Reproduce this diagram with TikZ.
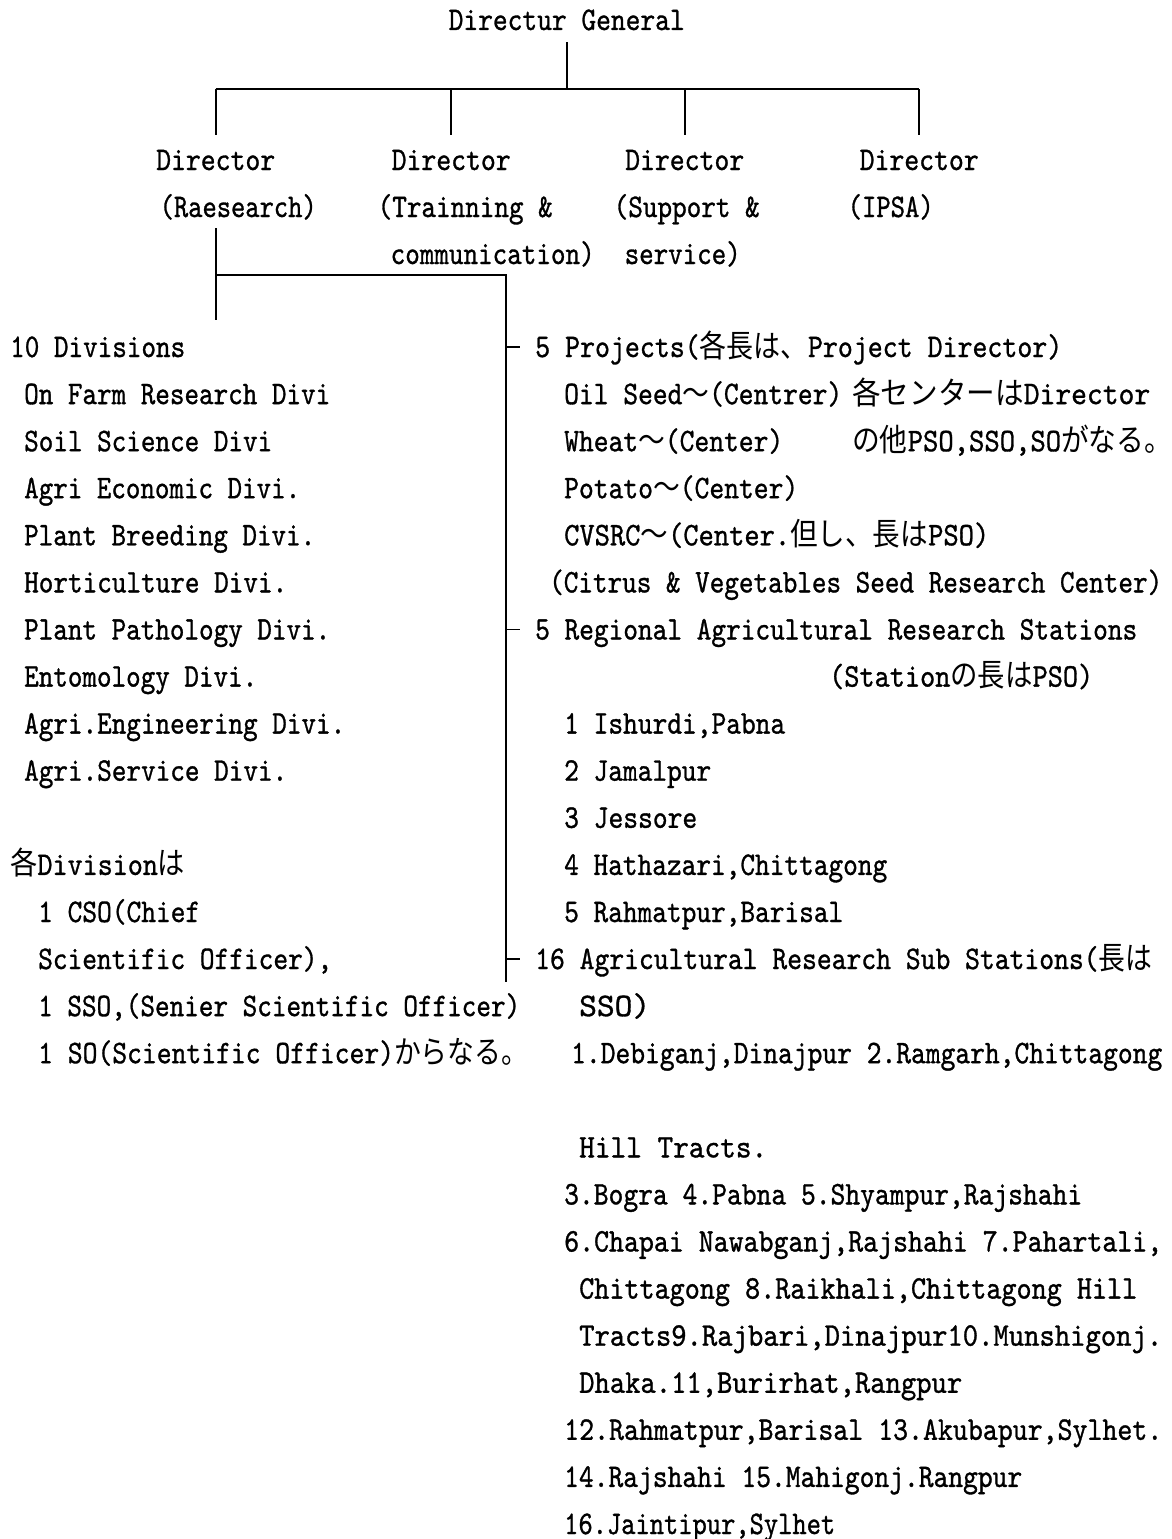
\documentclass[tikz,border=0pt]{standalone}
\usepackage{fontspec}
\usepackage{graphicx}
\newfontfamily\lmt{lmmono10-regular.otf}[FakeBold=1.0]
\newfontfamily\jf{Noto Sans CJK JP}[Scale=0.95]
\newcommand\J[1]{{\jf #1}}
\newcommand\fitw[2]{\resizebox{#1pt}{\height}{#2}}
\tikzset{
  lbl/.style={anchor=west, inner sep=0pt, text height=20pt, text depth=0pt,
              font=\lmt\fontsize{33}{40}\selectfont},
  conn/.style={line width=1.6pt, black}
}
% name, box start x, box end x, y, text
\newcommand\T[5]{\pgfmathsetmacro\tw{#3-#2}\node[lbl] (#1) at (#2,#4) {\fitw{\tw}{#5}};}
\begin{document}
\begin{tikzpicture}[x=1pt,y=-1pt]
\useasboundingbox[fill=white] (0,0) rectangle (1171,1539);
% top
\T{dg}{448.5}{684.5}{20}{Directur General}
\T{d1}{156}{275}{160}{Director}
\T{d2}{391.5}{510.5}{160}{Director}
\T{d3}{625}{744}{160}{Director}
\T{d4}{859.5}{978.5}{160}{Director}
\T{e1}{159.5}{316.5}{207}{(Raesearch)}
\T{e2}{377.5}{552.5}{207}{(Trainning \&}
\T{e3}{613.5}{759.5}{207}{(Support \&}
\T{e4}{847.5}{933.5}{207}{(IPSA)}
\T{f2}{390.5}{594.5}{254}{communication)}
\T{f3}{624.5}{740.5}{254}{service)}
% left column
\T{l0}{10}{185}{347}{10 Divisions}
\T{l1}{24}{330}{394.1}{On Farm Research Divi}
\T{l2}{24}{272}{441.2}{Soil Science Divi}
\T{l3}{24}{300}{488.2}{Agri Economic Divi.}
\T{l4}{24}{315}{535.3}{Plant Breeding Divi.}
\T{l5}{24}{287}{582.4}{Horticulture Divi.}
\T{l6}{24}{330}{629.5}{Plant Pathology Divi.}
\T{l7}{24}{257}{676.6}{Entomology Divi.}
\T{l8}{24}{345}{723.6}{Agri.Engineering Divi.}
\T{l9}{24}{287}{770.7}{Agri.Service Divi.}
\T{m0}{10}{185}{864.9}{\J{各}Division\J{は}}
\T{m1}{38}{200}{912.0}{1 CSO(Chief}
\T{m2}{38}{332}{959.0}{Scientific Officer),}
\T{m3}{38}{520}{1006.1}{1 SSO,(Senier Scientific Officer)}
\T{m4}{38}{528}{1053.2}{1 SO(Scientific Officer)\J{からなる。}}
% right column
\T{p5}{535}{1062}{347}{5 Projects(\J{各長は、}Project Director)}
\T{o1}{564}{842}{394.1}{Oil Seed\J{～}(Centrer)}
\T{o2}{852}{1150}{394.1}{\J{各センターは}Director}
\T{w1}{564}{783}{441.2}{Wheat\J{～}(Center)}
\T{w2}{852}{1172}{441.2}{\J{の他}PSO,SSO,SO\J{がなる。}}
\T{pt}{564}{798}{488.2}{Potato\J{～}(Center)}
\T{cv}{564}{989}{535.3}{CVSRC\J{～}(Center.\J{但し、長は}PSO)}
\T{ci}{549}{1162}{582.4}{(Citrus \& Vegetables Seed Research Center)}
\T{r5}{535}{1137}{629.5}{5 Regional Agricultural Research Stations}
\T{sp}{829}{1093}{676.6}{(Station\J{の長は}PSO)}
\T{a1}{564}{785}{723.6}{1 Ishurdi,Pabna}
\T{a2}{564}{711}{770.7}{2 Jamalpur}
\T{a3}{564}{697}{817.8}{3 Jessore}
\T{a4}{564}{887}{864.9}{4 Hathazari,Chittagong}
\T{a5}{564}{843}{912.0}{5 Rahmatpur,Barisal}
\T{s16}{535}{1152}{959.0}{16 Agricultural Research Sub Stations(\J{長は}}
\T{ss}{579}{650}{1006.1}{SSO)}
\T{b1}{571}{1162}{1053.2}{1.Debiganj,Dinajpur 2.Ramgarh,Chittagong}
\T{b2}{579}{767}{1147.4}{Hill Tracts.}
\T{b3}{564}{1082}{1194.4}{3.Bogra 4.Pabna 5.Shyampur,Rajshahi}
\T{b4}{564}{1162}{1241.5}{6.Chapai Nawabganj,Rajshahi 7.Pahartali,}
\T{b5}{579}{1137}{1288.6}{Chittagong 8.Raikhali,Chittagong Hill}
\T{b6}{579}{1162}{1335.7}{Tracts9.Rajbari,Dinajpur10.Munshigonj.}
\T{b7}{579}{962}{1382.8}{Dhaka.11,Burirhat,Rangpur}
\T{b8}{564}{1162}{1429.8}{12.Rahmatpur,Barisal 13.Akubapur,Sylhet.}
\T{b9}{564}{1022}{1476.9}{14.Rajshahi 15.Mahigonj.Rangpur}
\T{b10}{564}{835}{1524.0}{16.Jaintipur,Sylhet}
% connectors
\draw[conn] ([yshift=-12pt]dg.south) -- (dg.south |- 0,89) coordinate (hub);
\draw[conn] (d1.north |- hub) -- (d4.north |- hub);
\foreach \d in {d1,d2,d3,d4}
  \draw[conn] (\d.north |- hub) -- ([yshift=15pt]\d.north);
\draw[conn] (d1.south |- 0,228) -- (d1.south |- 0,275) coordinate (lj) -- (d1.south |- 0,320);
\draw[conn] (lj) -- (506,275) coordinate (st) -- (506,982) coordinate (sb);
\foreach \n in {p5,r5,s16}
  \draw[conn] (st |- \n.west) -- ([xshift=-15pt]\n.west);
\end{tikzpicture}
\end{document}
